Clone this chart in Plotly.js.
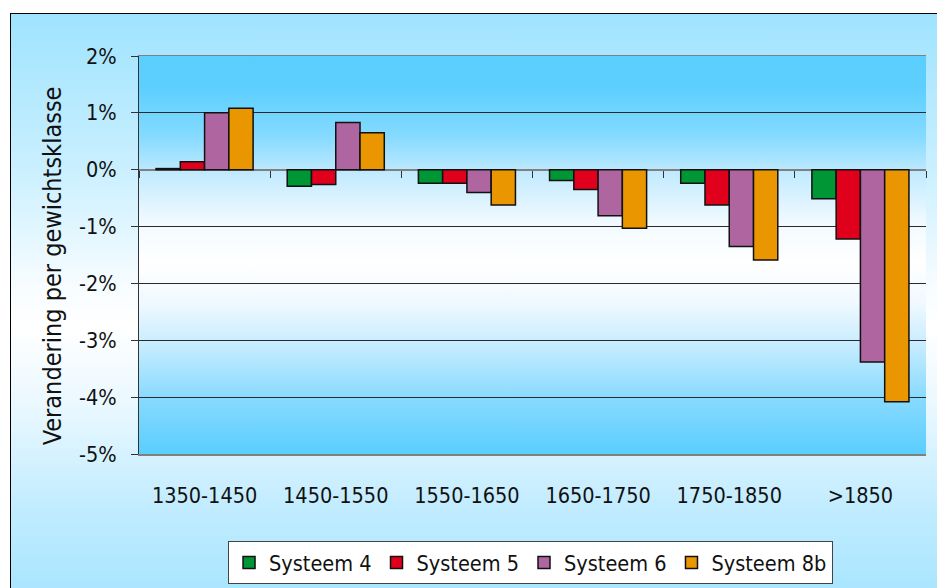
<!DOCTYPE html>
<html>
<head>
<meta charset="utf-8">
<script src="https://cdn.plot.ly/plotly-3.0.1.min.js"></script>
<style>
  html, body { margin: 0; padding: 0; width: 937px; height: 588px; overflow: hidden; background: #ffffff; }
  #frame {
    position: absolute; left: 10px; top: 13px; width: 940px; height: 600px;
    border-left: 1px solid #000; border-top: 1px solid #000;
    background: linear-gradient(to bottom, #9fe3ff 0%, #c8efff 25%, #f6fcff 45%, #ffffff 52%, #eaf8ff 65%, #c2ecff 82%, #a2e4ff 100%);
  }
  #chart { position: absolute; left: 0; top: 0; width: 937px; height: 588px; }
</style>
</head>
<body>
<div id="frame"></div>
<div id="chart"></div>
<script>
// ---- data ----
const categories = ['1350-1450', '1450-1550', '1550-1650', '1650-1750', '1750-1850', '>1850'];
const seriesNames = ['Systeem 4', 'Systeem 5', 'Systeem 6', 'Systeem 8b'];
const systeem4  = [0.02, -0.29, -0.24, -0.19, -0.24, -0.51];
const systeem5  = [0.14, -0.26, -0.24, -0.35, -0.62, -1.22];
const systeem6  = [1.00,  0.83, -0.40, -0.81, -1.35, -3.38];
const systeem8b = [1.08,  0.65, -0.62, -1.03, -1.59, -4.08];
const yTickVals = [2, 1, 0, -1, -2, -3, -4, -5];
const yTickText = ['2%', '1%', '0%', '-1%', '-2%', '-3%', '-4%', '-5%'];
const yTitle = 'Verandering per gewichtsklasse';

// ---- styles ----
const colors = ['#009535', '#E1001C', '#AF66A0', '#E99600'];
const FONT = "'DejaVu Sans Condensed', 'DejaVu Sans', sans-serif";
const allSeries = [systeem4, systeem5, systeem6, systeem8b];

const traces = allSeries.map((vals, i) => ({
  type: 'bar',
  name: seriesNames[i],
  x: categories,
  y: vals,
  marker: { color: colors[i], line: { color: '#111111', width: 1.5 } },
  hoverinfo: 'skip'
}));

// helper trace so the zero-level axis (category boundaries ticks) exists
traces.push({
  type: 'scatter', mode: 'markers', x: categories, y: categories.map(() => null),
  xaxis: 'x2', yaxis: 'y', showlegend: false, hoverinfo: 'skip'
});

const plotGrad = "<svg xmlns='http://www.w3.org/2000/svg' width='10' height='100' preserveAspectRatio='none'>" +
  "<defs><linearGradient id='g' x1='0' y1='0' x2='0' y2='1'>" +
  "<stop offset='0' stop-color='#5ACEFE'/>" +
  "<stop offset='0.08' stop-color='#5DCFFF'/>" +
  "<stop offset='0.2' stop-color='#84DAFF'/>" +
  "<stop offset='0.3' stop-color='#C4EBFF'/>" +
  "<stop offset='0.42' stop-color='#F2FAFF'/>" +
  "<stop offset='0.52' stop-color='#FFFFFF'/>" +
  "<stop offset='0.62' stop-color='#F0F9FF'/>" +
  "<stop offset='0.72' stop-color='#C9EDFF'/>" +
  "<stop offset='0.86' stop-color='#88DAFF'/>" +
  "<stop offset='1' stop-color='#5ACEFE'/>" +
  "</linearGradient></defs><rect x='0' y='0' width='10' height='100' fill='url(#g)'/></svg>";

const layout = {
  width: 937, height: 588,
  margin: { l: 139, r: 11, t: 56, b: 134, autoexpand: false },
  paper_bgcolor: 'rgba(0,0,0,0)',
  plot_bgcolor: 'rgba(0,0,0,0)',
  font: { family: FONT, size: 21, color: '#111111' },
  barmode: 'group',
  bargap: 0.26,
  bargroupgap: 0,
  showlegend: true,
  legend: {
    orientation: 'h', x: 0.4975, xanchor: 'center', y: -0.2186, yanchor: 'top',
    bgcolor: '#ffffff', bordercolor: '#444444', borderwidth: 1,
    font: { family: FONT, size: 21.5, color: '#111111' },
    traceorder: 'normal'
  },
  images: [{
    source: 'data:image/svg+xml;charset=utf-8,' + encodeURIComponent(plotGrad),
    xref: 'paper', yref: 'paper', x: 0, y: 1, sizex: 1, sizey: 1,
    sizing: 'stretch', layer: 'below', xanchor: 'left', yanchor: 'top'
  }],
  annotations: [{
    text: yTitle, xref: 'paper', yref: 'paper',
    x: -0.1105, y: 0.472, xanchor: 'center', yanchor: 'middle',
    textangle: -90, showarrow: false,
    font: { family: FONT, size: 25, color: '#111111' }
  }],
  xaxis: {
    type: 'category', range: [-0.5, 5.5],
    showline: true, linecolor: '#808080', linewidth: 1.5, mirror: true,
    ticks: 'outside', ticklen: 22, tickcolor: 'rgba(0,0,0,0)',
    showgrid: false, zeroline: false,
    tickfont: { family: FONT, size: 21.5, color: '#111111' }
  },
  xaxis2: {
    type: 'category', range: [-0.5, 5.5], overlaying: 'x', anchor: 'free',
    position: 5 / 7, side: 'bottom',
    showline: true, linecolor: '#808080', linewidth: 2,
    ticks: 'outside', tickson: 'boundaries', ticklen: 7, tickwidth: 1, tickcolor: '#333333',
    showticklabels: false, showgrid: false, zeroline: false, layer: 'below traces'
  },
  yaxis: {
    range: [-5, 2],
    tickvals: yTickVals, ticktext: yTickText,
    showline: true, linecolor: '#333333', linewidth: 1,
    ticks: 'outside', ticklen: 7, tickcolor: '#333333',
    ticklabelstandoff: 10,
    showgrid: true, gridcolor: '#2a2a2a', gridwidth: 1,
    zeroline: false,
    tickfont: { family: FONT, size: 21.5, color: '#111111' }
  }
};

Plotly.newPlot('chart', traces, layout, { staticPlot: true, displayModeBar: false });
</script>
</body>
</html>
